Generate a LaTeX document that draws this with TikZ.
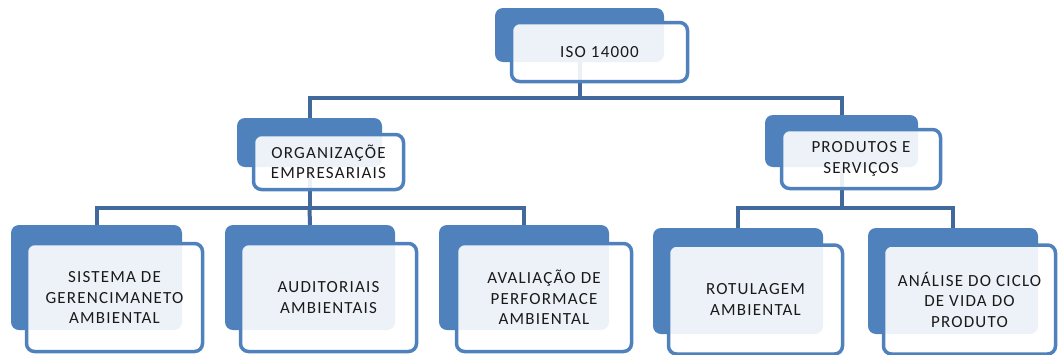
\documentclass[tikz,border=0pt]{standalone}
\usepackage{fontspec}
\setmainfont{Carlito}[LetterSpace=7]
\definecolor{bblue}{HTML}{4F81BD}
\definecolor{cblue}{HTML}{41699C}
\definecolor{txt}{HTML}{1A1A1A}
\begin{document}
\begin{tikzpicture}[x=1pt,y=-1pt,
  backbox/.style={rectangle, rounded corners=8pt, fill=bblue, draw=none, inner sep=0pt},
  frontbox/.style={rectangle, rounded corners=8pt, draw=bblue, line width=3.5pt, fill=white, fill opacity=0.9, text opacity=1, text=txt, align=center, inner sep=0pt, font=\fontsize{17}{20.5}\selectfont},
  conn/.style={draw=cblue, line width=4pt}]
\useasboundingbox (0,0) rectangle (1058,354);
% back boxes
\node[backbox, minimum width=169, minimum height=54] (isob) at (579.5,35) {};
\node[backbox, minimum width=145, minimum height=49] (orgb) at (309.5,142.5) {};
\node[backbox, minimum width=153, minimum height=52] (prodb) at (841.5,141) {};
\node[backbox, minimum width=171, minimum height=105] (b1b) at (96.5,277.5) {};
\node[backbox, minimum width=170, minimum height=105] (b2b) at (310,277.5) {};
\node[backbox, minimum width=170, minimum height=105] (b3b) at (524,277.5) {};
\node[backbox, minimum width=170, minimum height=106] (b4b) at (738,281) {};
\node[backbox, minimum width=170, minimum height=106] (b5b) at (953,281) {};
% level coordinates
\coordinate (h1) at (0,98);
\coordinate (h2) at (0,208);
% connectors
\draw[conn] (isob.south) -- (isob.south |- h1) -| (orgb.north);
\draw[conn] (isob.south |- h1) -| (prodb.north);
\draw[conn] (orgb.south) -- (orgb.south |- h2) -| (b1b.north);
\draw[conn] (orgb.south |- h2) -| (b3b.north);
\draw[conn] (orgb.south |- h2) -- (b2b.north);
\draw[conn] (prodb.south) -- (prodb.south |- h2) -| (b4b.north);
\draw[conn] (prodb.south |- h2) -| (b5b.north);
% front boxes
\node[frontbox, minimum width=176, minimum height=59] (iso) at (599.5,52) {ISO 14000};
\node[frontbox, minimum width=150, minimum height=55] (org) at (328.5,162) {ORGANIZAÇÕE\\EMPRESARIAIS};
\node[frontbox, minimum width=159, minimum height=59] (prod) at (861,159) {PRODUTOS E\\SERVIÇOS};
\node[frontbox, minimum width=176, minimum height=108] (b1) at (114.5,297.5) {SISTEMA DE\\GERENCIMANETO\\AMBIENTAL};
\node[frontbox, minimum width=176, minimum height=108] (b2) at (328.5,297.5) {AUDITORIAIS\\AMBIENTAIS};
\node[frontbox, minimum width=175, minimum height=108] (b3) at (544,297.5) {AVALIAÇÃO DE\\PERFORMACE\\AMBIENTAL};
\node[frontbox, minimum width=174, minimum height=109] (b4) at (755.5,299.5) {ROTULAGEM\\AMBIENTAL};
\node[frontbox, minimum width=172, minimum height=109] (b5) at (969.5,299.5) {ANÁLISE DO CICLO\\DE VIDA DO\\PRODUTO};
\end{tikzpicture}
\end{document}
